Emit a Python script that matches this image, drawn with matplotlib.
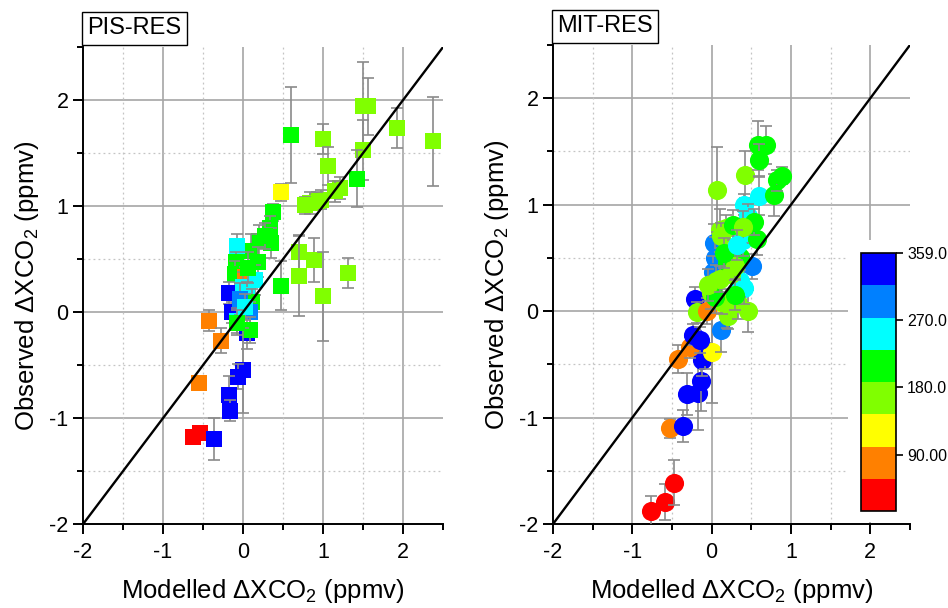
import numpy as np
import matplotlib.pyplot as plt
from matplotlib.colors import ListedColormap, BoundaryNorm
from matplotlib.patches import Rectangle
from matplotlib.ticker import FixedLocator

plt.rcParams['font.family'] = ['Liberation Sans', 'DejaVu Sans']
plt.rcParams['mathtext.fontset'] = 'custom'
plt.rcParams['mathtext.rm'] = 'Liberation Sans'
plt.rcParams['axes.unicode_minus'] = False

# wind direction classes (deg) used for colouring
RED, ORA, YEL, CHA, GRN, CYA, DOD, BLU = 35, 80, 120, 165, 210, 250, 295, 340

# PIS-RES : modelled vs observed dXCO2 (ppmv), 1-sigma error, wind direction
pis_mod = [2.38, 1.92, 1.50, 1.56, 1.50, 1.42, 0.60, 1.00, 1.06, 1.21, 1.15, 0.98, 0.92, 0.84, 0.77,
           0.47, 0.37, 0.34, 0.20, 0.35, 0.27, 0.10, 0.19, 0.70, 0.70, 0.89, 1.31, 1.00, 0.47,
           -0.08, -0.09, -0.10, 0.03, 0.15, -0.18, 0.00, 0.05, 0.11, -0.14, -0.08, 0.09, 0.05, 0.09,
           -0.43, -0.28, -0.55, 0.00, -0.06, -0.18, -0.16, -0.63, -0.54, -0.36, -0.04, 0.06, 0.02, -0.08]
pis_obs = [1.61, 1.74, 1.94, 1.94, 1.53, 1.26, 1.67, 1.63, 1.38, 1.17, 1.14, 1.06, 1.05, 1.03, 1.01,
           1.13, 0.94, 0.79, 0.67, 0.65, 0.72, 0.58, 0.47, 0.57, 0.34, 0.49, 0.37, 0.15, 0.25,
           0.62, 0.47, 0.36, 0.33, 0.30, 0.18, 0.24, 0.16, 0.10, 0.00, -0.08, 0.00, -0.20, -0.17,
           -0.08, -0.27, -0.67, -0.55, -0.61, -0.78, -0.93, -1.18, -1.14, -1.20, 0.12, 0.42, 0.05, -0.10]
pis_err = [0.42, 0.19, 0.42, 0.27, 0.28, 0.27, 0.45, 0.14, 0.18, 0.10, 0.10, 0.09, 0.08, 0.10, 0.08,
           0.08, 0.08, 0.12, 0.15, 0.14, 0.12, 0.16, 0.14, 0.16, 0.38, 0.21, 0.14, 0.42, 0.23,
           0.12, 0.10, 0.12, 0.10, 0.14, 0.10, 0.14, 0.12, 0.12, 0.10, 0.12, 0.10, 0.15, 0.12,
           0.10, 0.12, 0.04, 0.40, 0.12, 0.18, 0.10, 0.04, 0.04, 0.20, 0.15, 0.15, 0.12, 0.12]
pis_dir = [CHA, CHA, CHA, CHA, CHA, GRN, GRN, CHA, CHA, CHA, CHA, CHA, CHA, CHA, CHA,
           YEL, GRN, GRN, GRN, GRN, GRN, GRN, GRN, CHA, CHA, CHA, CHA, CHA, GRN,
           CYA, GRN, GRN, ORA, CYA, BLU, CYA, CYA, GRN, BLU, CYA, DOD, BLU, GRN,
           ORA, ORA, ORA, BLU, BLU, BLU, BLU, RED, RED, BLU, DOD, GRN, CYA, GRN]

# MIT-RES
mit_mod = [-0.76, -0.59, -0.48, -0.52, -0.36, -0.31, -0.17, -0.13, -0.43, -0.12, -0.08, 0.01, -0.27,
           -0.24, -0.15, 0.12, -0.21, -0.19, -0.06, 0.19, 0.21, 0.33, 0.46, 0.41, 0.51, 0.03, 0.04,
           0.02, 0.11, -0.01, 0.06, 0.19, 0.23, 0.36, 0.40, 0.57, 0.13, 0.36, 0.04, 0.07, 0.42, 0.59,
           0.69, 0.60, 0.60, 0.78, 0.82, 0.89, 0.41, 0.46, 0.53, 0.18, 0.12, 0.27, 0.39, 0.25, 0.30,
           0.15, 0.32, -0.05, 0.10, 0.30]
mit_obs = [-1.88, -1.79, -1.61, -1.10, -1.08, -0.78, -0.77, -0.66, -0.45, -0.46, -0.42, -0.38, -0.34,
           -0.22, -0.27, -0.18, 0.11, -0.01, 0.00, -0.01, -0.05, 0.08, 0.00, 0.22, 0.42, 0.64, 0.50,
           0.37, 0.76, 0.17, 0.28, 0.45, 0.56, 0.51, 0.67, 0.68, 0.09, 0.28, 0.13, 1.14, 1.28, 1.56,
           1.56, 1.42, 1.08, 1.09, 1.23, 1.27, 1.00, 0.89, 0.84, 0.78, 0.71, 0.81, 0.79, 0.35, 0.42,
           0.55, 0.62, 0.25, 0.30, 0.15]
mit_err = [0.14, 0.17, 0.21, 0.09, 0.15, 0.20, 0.35, 0.28, 0.13, 0.15, 0.12, 0.48, 0.10,
           0.10, 0.12, 0.20, 0.12, 0.10, 0.12, 0.15, 0.12, 0.15, 0.20, 0.15, 0.12, 0.18, 0.20,
           0.15, 0.20, 0.15, 0.15, 0.15, 0.15, 0.12, 0.15, 0.15, 0.12, 0.15, 0.15, 0.40, 0.22, 0.23,
           0.18, 0.15, 0.18, 0.20, 0.10, 0.08, 0.10, 0.12, 0.12, 0.12, 0.12, 0.14, 0.15, 0.15, 0.12,
           0.14, 0.14, 0.15, 0.12, 0.14]
mit_dir = [RED, RED, RED, ORA, BLU, BLU, BLU, BLU, ORA, BLU, BLU, YEL, ORA,
           BLU, BLU, DOD, BLU, CHA, ORA, YEL, CHA, CHA, CHA, CYA, DOD, DOD, DOD,
           DOD, CHA, CHA, CHA, GRN, CHA, GRN, CYA, GRN, CHA, CYA, GRN, CHA, CHA, GRN,
           GRN, GRN, CYA, GRN, GRN, GRN, CYA, CYA, GRN, CHA, CHA, GRN, CHA, CHA, CHA,
           GRN, CYA, CHA, CHA, GRN]

cb_ticks = [90, 180, 270, 359]
cb_labels = ['90.00', '180.0', '270.0', '359.0']

colours = ['#FF0000', '#FF8000', '#FFFF00', '#80FF00', '#00FF00', '#00FFFF', '#0080FF', '#0000FF']
cmap = ListedColormap(colours)
norm = BoundaryNorm(np.linspace(15, 359, 9), cmap.N)

fig = plt.figure(figsize=(9.48, 6.08), dpi=100)
ax1 = fig.add_axes([0.0876, 0.138, 0.3797, 0.7845])
ax2 = fig.add_axes([0.5833, 0.138, 0.3766, 0.788])


def panel(ax, xs, ys, es, ds, marker, size, name):
    ax.set_xlim(-2, 2.5)
    ax.set_ylim(-2, 2.5)
    # grid: solid at whole numbers, dotted at halves
    for v in [-1, 0, 1, 2]:
        ax.axvline(v, color='#a6a6a6', lw=1.2, zorder=0.5)
        ax.axhline(v, color='#a6a6a6', lw=1.2, zorder=0.5)
    for v in [-1.5, -0.5, 0.5, 1.5]:
        ax.axvline(v, color='#c4c4c4', lw=0.9, ls=(0, (1.5, 2.5)), zorder=0.5)
        ax.axhline(v, color='#c4c4c4', lw=0.9, ls=(0, (1.5, 2.5)), zorder=0.5)

    for i, (x, y, e, d) in enumerate(zip(xs, ys, es, ds)):
        z = 3 + i * 0.01
        ax.errorbar(x, y, yerr=e, fmt='none', ecolor='#8a8a8a', elinewidth=1.2,
                    capsize=4, capthick=1.2, zorder=z)
        ax.scatter(x, y, c=[d], cmap=cmap, norm=norm, marker=marker, s=size,
                   linewidths=0, zorder=z + 0.005)

    ax.axline((0, 0), slope=1, color='black', lw=1.7, zorder=5)

    for s in ['top', 'right']:
        ax.spines[s].set_visible(False)
    for s in ['left', 'bottom']:
        ax.spines[s].set_linewidth(1.4)
    ax.xaxis.set_major_locator(FixedLocator([-2, -1, 0, 1, 2]))
    ax.yaxis.set_major_locator(FixedLocator([-2, -1, 0, 1, 2]))
    ax.xaxis.set_minor_locator(FixedLocator([-1.5, -0.5, 0.5, 1.5, 2.5]))
    ax.yaxis.set_minor_locator(FixedLocator([-1.5, -0.5, 0.5, 1.5, 2.5]))
    ax.tick_params(which='major', direction='out', length=7, width=1.4, labelsize=15.5)
    ax.tick_params(which='minor', direction='out', length=4.5, width=1.4)
    ax.tick_params(axis='x', pad=6)
    ax.set_xlabel('Modelled ΔXCO$_2$ (ppmv)', fontsize=18.5, labelpad=10)
    ax.set_ylabel('Observed ΔXCO$_2$ (ppmv)', fontsize=18.5, labelpad=6)
    ax.text(0.012, 1.016, name, transform=ax.transAxes, ha='left', va='bottom', fontsize=17,
            bbox=dict(boxstyle='square,pad=0.22', fc='white', ec='black', lw=1))


panel(ax1, pis_mod, pis_obs, pis_err, pis_dir, 's', 135, 'PIS-RES')
panel(ax2, mit_mod, mit_obs, mit_err, mit_dir, 'o', 190, 'MIT-RES')

# white backdrop behind the colour scale
ax2.add_patch(Rectangle((1.72, -1.985), 1.0, 2.655, facecolor='white', edgecolor='none', zorder=1))

cax = fig.add_axes([0.908, 0.1595, 0.037, 0.424])
sm = plt.cm.ScalarMappable(cmap=cmap, norm=norm)
cb = fig.colorbar(sm, cax=cax, ticks=cb_ticks)
cb.ax.set_yticklabels(cb_labels)
cb.ax.tick_params(length=5, width=1.2, labelsize=11.5, pad=3)
cb.outline.set_linewidth(1.2)
cb.ax.minorticks_off()

fig.savefig('out.png', dpi=100)
